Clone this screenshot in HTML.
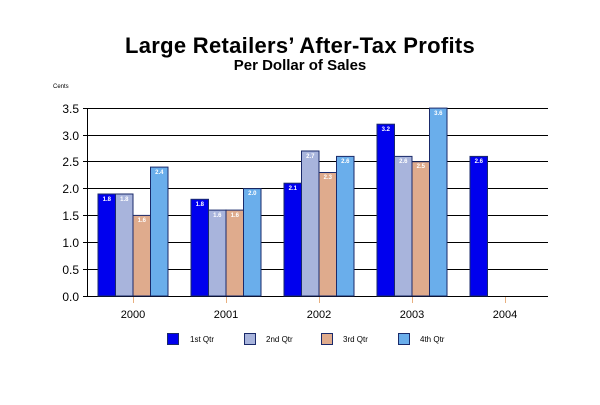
<!DOCTYPE html>
<html><head><meta charset="utf-8"><style>html,body{margin:0;padding:0;background:#fff}</style></head>
<body>
<svg width="600" height="400" xmlns="http://www.w3.org/2000/svg" font-family="Liberation Sans, Arial, sans-serif">
<rect width="600" height="400" fill="#fff"/>
<text x="300" y="53" text-anchor="middle" font-size="22" font-weight="bold" letter-spacing="0.3">Large Retailers’ After-Tax Profits</text>
<text x="300" y="70" text-anchor="middle" font-size="15" font-weight="bold">Per Dollar of Sales</text>
<text x="53" y="88" font-size="6">Cents</text>
<g stroke="#000" stroke-width="1">
<line x1="87" y1="108.5" x2="548" y2="108.5"/>
<line x1="87" y1="135.5" x2="548" y2="135.5"/>
<line x1="87" y1="161.5" x2="548" y2="161.5"/>
<line x1="87" y1="188.5" x2="548" y2="188.5"/>
<line x1="87" y1="215.5" x2="548" y2="215.5"/>
<line x1="87" y1="242.5" x2="548" y2="242.5"/>
<line x1="87" y1="269.5" x2="548" y2="269.5"/>
<line x1="87" y1="296.5" x2="548" y2="296.5"/>
<line x1="87.5" y1="108" x2="87.5" y2="297"/>
<line x1="83" y1="108.5" x2="87" y2="108.5"/><line x1="83" y1="135.5" x2="87" y2="135.5"/><line x1="83" y1="161.5" x2="87" y2="161.5"/><line x1="83" y1="188.5" x2="87" y2="188.5"/><line x1="83" y1="215.5" x2="87" y2="215.5"/><line x1="83" y1="242.5" x2="87" y2="242.5"/><line x1="83" y1="269.5" x2="87" y2="269.5"/><line x1="83" y1="296.5" x2="87" y2="296.5"/>
</g>
<g stroke="#e8b080" stroke-width="1">
<line x1="133.5" y1="297" x2="133.5" y2="303"/><line x1="226.5" y1="297" x2="226.5" y2="303"/><line x1="319.5" y1="297" x2="319.5" y2="303"/><line x1="412.5" y1="297" x2="412.5" y2="303"/><line x1="505.5" y1="297" x2="505.5" y2="303"/>
</g>
<g font-size="12" text-anchor="end" fill="#000">
<text x="79" y="113">3.5</text><text x="79" y="140">3.0</text><text x="79" y="166">2.5</text><text x="79" y="193">2.0</text><text x="79" y="220">1.5</text><text x="79" y="247">1.0</text><text x="79" y="274">0.5</text><text x="79" y="301">0.0</text>
</g>
<g font-size="11" text-anchor="middle">
<text x="133" y="318">2000</text><text x="226" y="318">2001</text><text x="319" y="318">2002</text><text x="412" y="318">2003</text><text x="505" y="318">2004</text>
</g>
<g stroke="#1a2a6a" stroke-width="1">
<rect x="98" y="194" width="17.5" height="102" fill="#0000ee"/>
<rect x="115.5" y="194" width="17.5" height="102" fill="#a8b4dc"/>
<rect x="133" y="215.4" width="17.5" height="80.6" fill="#dfab8d"/>
<rect x="150.5" y="167.1" width="17.5" height="128.9" fill="#6aaeeb"/>
<rect x="191" y="199.3" width="17.5" height="96.7" fill="#0000ee"/>
<rect x="208.5" y="210.1" width="17.5" height="85.9" fill="#a8b4dc"/>
<rect x="226" y="210.1" width="17.5" height="85.9" fill="#dfab8d"/>
<rect x="243.5" y="188.6" width="17.5" height="107.4" fill="#6aaeeb"/>
<rect x="284" y="183.2" width="17.5" height="112.8" fill="#0000ee"/>
<rect x="301.5" y="151" width="17.5" height="145" fill="#a8b4dc"/>
<rect x="319" y="172.5" width="17.5" height="123.5" fill="#dfab8d"/>
<rect x="336.5" y="156.4" width="17.5" height="139.6" fill="#6aaeeb"/>
<rect x="377" y="124.2" width="17.5" height="171.8" fill="#0000ee"/>
<rect x="394.5" y="156.4" width="17.5" height="139.6" fill="#a8b4dc"/>
<rect x="412" y="161.7" width="17.5" height="134.3" fill="#dfab8d"/>
<rect x="429.5" y="108.1" width="17.5" height="187.9" fill="#6aaeeb"/>
<rect x="470" y="156.4" width="17.5" height="139.6" fill="#0000ee"/>
</g>
<g font-size="6" font-weight="bold" fill="#fff" text-anchor="middle">
<text x="106.8" y="201">1.8</text><text x="124.3" y="201">1.8</text><text x="141.8" y="222">1.6</text><text x="159.3" y="174">2.4</text>
<text x="199.8" y="206">1.8</text><text x="217.3" y="217">1.6</text><text x="234.8" y="217">1.6</text><text x="252.3" y="195">2.0</text>
<text x="292.8" y="190">2.1</text><text x="310.3" y="158">2.7</text><text x="327.8" y="179">2.3</text><text x="345.3" y="163">2.6</text>
<text x="385.8" y="131">3.2</text><text x="403.3" y="163">2.6</text><text x="420.8" y="168">2.5</text><text x="438.3" y="115">3.6</text>
<text x="478.8" y="163">2.6</text>
</g>
<g stroke="#1a2a6a" stroke-width="1">
<rect x="167.5" y="333.5" width="11" height="11" fill="#0000ee"/>
<rect x="244.5" y="333.5" width="11" height="11" fill="#a8b4dc"/>
<rect x="321.5" y="333.5" width="11" height="11" fill="#dfab8d"/>
<rect x="398.5" y="333.5" width="11" height="11" fill="#6aaeeb"/>
</g>
<g font-size="8">
<text x="190" y="342">1st Qtr</text><text x="266" y="342">2nd Qtr</text><text x="343" y="342">3rd Qtr</text><text x="420" y="342">4th Qtr</text>
</g>
</svg>
</body></html>
